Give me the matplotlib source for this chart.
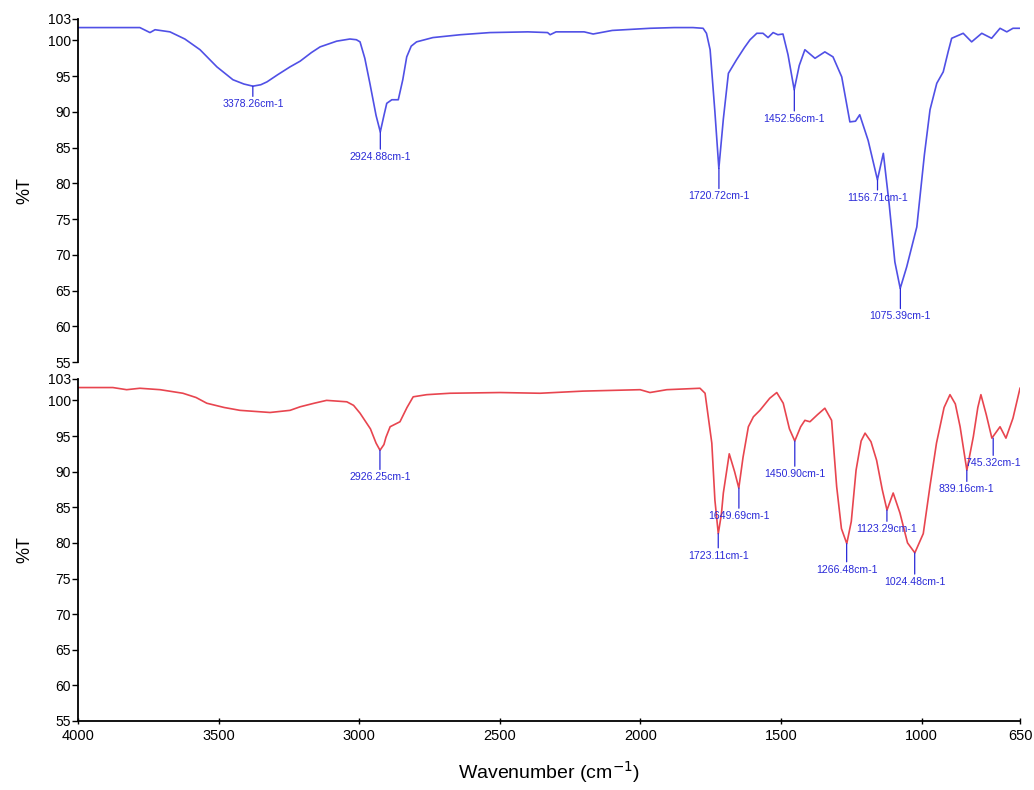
import matplotlib
matplotlib.use("Agg")
import matplotlib.pyplot as plt

plt.rcParams['font.family'] = ['Liberation Sans', 'DejaVu Sans']

# ---------------- data ----------------
top_wn = [4000, 3900, 3780, 3744, 3726, 3673, 3620, 3566, 3506, 3449, 3410, 3378, 3350, 3328,
          3290, 3246, 3210, 3170, 3139, 3080, 3033, 3010, 2997, 2980, 2962, 2940, 2925, 2912,
          2902, 2884, 2861, 2845, 2831, 2815, 2796, 2738, 2640, 2535, 2400, 2330, 2321, 2300,
          2286, 2200, 2168, 2100, 1966, 1880, 1813, 1777, 1765, 1752, 1735, 1721, 1705, 1687,
          1658, 1630, 1610, 1586, 1564, 1546, 1528, 1511, 1493, 1475, 1453, 1435, 1415, 1379,
          1344, 1315, 1284, 1255, 1235, 1220, 1190, 1157, 1136, 1115, 1095, 1076, 1053, 1017,
          990, 970, 946, 923, 905, 893, 852, 822, 786, 751, 721, 697, 675, 650]
top_T = [101.8, 101.8, 101.8, 101.1, 101.5, 101.2, 100.2, 98.7, 96.3, 94.5, 93.9, 93.6, 93.8, 94.2,
         95.2, 96.3, 97.1, 98.3, 99.1, 99.9, 100.2, 100.1, 99.8, 97.5, 94.0, 89.5, 87.2, 89.5,
         91.2, 91.7, 91.7, 94.5, 97.7, 99.2, 99.8, 100.4, 100.8, 101.1, 101.2, 101.1, 100.8, 101.2,
         101.2, 101.2, 100.9, 101.4, 101.7, 101.8, 101.8, 101.7, 101.0, 98.7, 90.0, 82.1, 89.0, 95.4,
         97.3, 99.0, 100.1, 101.0, 101.0, 100.4, 101.1, 100.8, 100.9, 98.0, 93.1, 96.5, 98.7, 97.5,
         98.4, 97.7, 94.9, 88.6, 88.7, 89.6, 86.0, 80.5, 84.2, 77.0, 69.0, 65.3, 68.3, 73.9,
         84.0, 90.3, 94.0, 95.6, 98.5, 100.3, 101.0, 99.8, 101.0, 100.3, 101.7, 101.2, 101.7, 101.7]

bot_wn = [4000, 3876, 3827, 3780, 3708, 3627, 3580, 3542, 3480, 3424, 3317, 3246, 3210, 3160,
          3116, 3044, 3020, 2997, 2960, 2940, 2926, 2912, 2905, 2890, 2855, 2830, 2808, 2760,
          2677, 2499, 2357, 2204, 2001, 1966, 1906, 1788, 1770, 1746, 1735, 1723, 1712, 1705,
          1684, 1665, 1650, 1635, 1616, 1598, 1575, 1540, 1515, 1492, 1470, 1451, 1430, 1415,
          1397, 1370, 1344, 1320, 1302, 1285, 1266, 1250, 1233, 1215, 1201, 1180, 1160, 1140,
          1123, 1101, 1077, 1050, 1024, 994, 970, 947, 920, 899, 880, 863, 839, 816, 800, 789,
          770, 750, 721, 700, 675, 650]
bot_T = [101.8, 101.8, 101.5, 101.7, 101.5, 101.0, 100.4, 99.6, 99.0, 98.6, 98.3, 98.6, 99.1, 99.6,
         100.0, 99.8, 99.3, 98.2, 96.0, 94.0, 93.0, 93.8, 94.8, 96.3, 97.0, 99.0, 100.5, 100.8,
         101.0, 101.1, 101.0, 101.3, 101.5, 101.1, 101.5, 101.7, 101.0, 94.0, 86.0, 81.3, 84.0, 87.0,
         92.5, 90.0, 87.7, 92.0, 96.3, 97.7, 98.6, 100.3, 101.1, 99.6, 96.0, 94.3, 96.3, 97.2,
         97.0, 98.0, 98.9, 97.2, 87.9, 82.0, 79.9, 83.0, 90.2, 94.3, 95.4, 94.2, 91.6, 87.5,
         84.6, 87.0, 84.2, 80.0, 78.6, 81.3, 88.0, 94.0, 99.0, 100.8, 99.5, 96.3, 90.2, 94.9, 99.0,
         100.8, 98.0, 94.7, 96.3, 94.7, 97.5, 101.7]

top_peak_labels = ["3378.26cm-1", "2924.88cm-1", "1720.72cm-1", "1452.56cm-1", "1156.71cm-1", "1075.39cm-1"]
top_peak_wn = [3378.26, 2924.88, 1720.72, 1452.56, 1156.71, 1075.39]
top_peak_T = [93.6, 87.2, 82.1, 93.1, 80.5, 65.3]

bot_peak_labels = ["2926.25cm-1", "1723.11cm-1", "1649.69cm-1", "1450.90cm-1", "1266.48cm-1",
                   "1123.29cm-1", "1024.48cm-1", "839.16cm-1", "745.32cm-1"]
bot_peak_wn = [2926.25, 1723.11, 1649.69, 1450.90, 1266.48, 1123.29, 1024.48, 839.16, 745.32]
bot_peak_T = [93.0, 81.3, 87.7, 94.3, 79.9, 84.6, 78.6, 90.2, 94.7]

y_ticks = [55, 60, 65, 70, 75, 80, 85, 90, 95, 100, 103]
x_ticks = [4000, 3500, 3000, 2500, 2000, 1500, 1000, 650]

# ---------------- style / layout ----------------
top_label_drop_px = [18, 25, 28, 29, 18, 28]
bot_label_drop_px = [27, 22, 28, 33, 26, 19, 29, 19, 25]

BLUE = '#5050e6'
RED = '#e8454f'
LABEL = '#2a2ad8'

fig = plt.figure(figsize=(10.34, 7.9), dpi=100)
W, H = 1034, 790
ax_top = fig.add_axes([78 / W, (H - 362) / H, 942 / W, 343 / H])
ax_bot = fig.add_axes([78 / W, (H - 721) / H, 942 / W, 342 / H])


def style_axis(ax, show_x):
    ax.set_xlim(4000, 650)
    ax.set_ylim(55, 103)
    ax.set_yticks(y_ticks)
    ax.set_yticklabels([str(v) for v in y_ticks], fontsize=10)
    for s in ['top', 'right']:
        ax.spines[s].set_visible(False)
    ax.spines['left'].set_linewidth(1.3)
    ax.tick_params(axis='y', direction='out', length=4, width=1.0, pad=1, labelsize=10)
    if show_x:
        ax.set_xticks(x_ticks)
        ax.set_xticklabels([str(v) for v in x_ticks], fontsize=10.5)
        ax.spines['bottom'].set_linewidth(1.3)
        ax.tick_params(axis='x', direction='inout', length=5, width=1.0, pad=3)
    else:
        ax.spines['bottom'].set_visible(False)
        ax.set_xticks([])
    ax.set_ylabel('%T', fontsize=13)
    ax.yaxis.set_label_coords(-0.047, 0.5)
    ax.patch.set_alpha(0)


def annotate(ax, labels, wn, T, drops):
    for lab, x, y, d in zip(labels, wn, T, drops):
        ax.annotate(lab, xy=(x, y), xytext=(0, -d * 0.72), textcoords='offset points',
                    ha='center', va='center', fontsize=7.6, color=LABEL,
                    arrowprops=dict(arrowstyle='-', color=LABEL, lw=0.9,
                                    shrinkA=0, shrinkB=0, relpos=(0.5, 1.0)))


ax_top.plot(top_wn, top_T, color=BLUE, lw=1.2)
ax_bot.plot(bot_wn, bot_T, color=RED, lw=1.2)
style_axis(ax_top, False)
style_axis(ax_bot, True)
annotate(ax_top, top_peak_labels, top_peak_wn, top_peak_T, top_label_drop_px)
annotate(ax_bot, bot_peak_labels, bot_peak_wn, bot_peak_T, bot_label_drop_px)

ax_bot.set_xlabel('Wavenumber (cm$^{-1}$)', fontsize=14, labelpad=12)

fig.savefig('out.png', dpi=100)
